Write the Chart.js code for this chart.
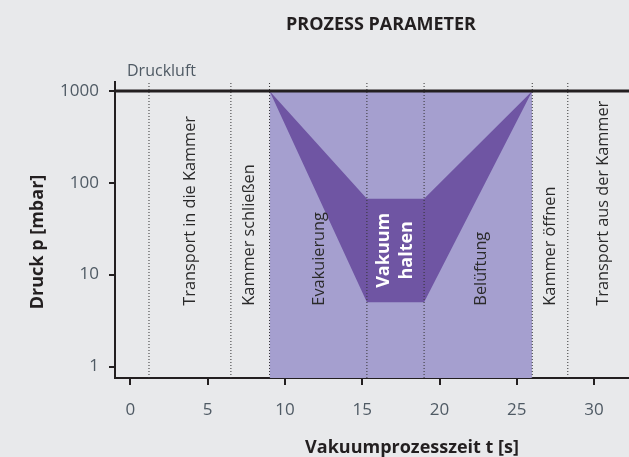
<!DOCTYPE html>
<html>
<head>
<meta charset="utf-8">
<script src="https://cdn.jsdelivr.net/npm/chart.js@4.4.1/dist/chart.umd.min.js"></script>
<style>
  html, body { margin: 0; padding: 0; background: #e8e9eb; }
  #wrap { width: 629px; height: 457px; }
</style>
</head>
<body>
<div id="wrap"><canvas id="chart"></canvas></div>
<script>
// Values
const xTicks = [0, 5, 10, 15, 20, 25, 30];
const yTicks = [1, 10, 100, 1000];

const phaseBounds = [1.2, 6.5, 9, 15.3, 19, 26, 28.3]; // dotted separators [s]
const phaseNames = ['Transport in die Kammer', 'Kammer schließen', 'Evakuierung', 'Belüftung', 'Kammer öffnen', 'Transport aus der Kammer'];
const phaseCenters = [3.9, 7.7, 12.25, 22.7, 27.2, 30.6];
const vacuumLabel = ['Vakuum', 'halten'];
const vacuumCenter = 17.15;

const bandX = [9, 26];            // process window (light purple)
const bandP = [1000, 1000];
const envX = [9, 15.3, 19, 26];   // pressure envelope (dark purple)
const envUpper = [1000, 67, 67, 1000];
const envLower = [1000, 5, 5, 1000];
const airX = [-1, 32.26];         // Druckluft level
const airP = [1000, 1000];

const X_MIN = -1, X_MAX = 32.26;
const Y_MIN = 0.75, Y_MAX = 1250;

const INK = '#231f20';
const GREY = '#4f5a64';
const LIGHT = '#a59fcf';
const DARK = '#6f55a3';

Chart.defaults.font.family = '"Open Sans"';

const pts = (xs, ys) => xs.map((v, i) => ({ x: v, y: ys[i] }));

const datasets = [
    { data: pts(airX, airP), borderColor: INK, borderWidth: 3, fill: false }
];
phaseBounds.forEach(b => {
    datasets.push({
        data: [{ x: b, y: Y_MIN }, { x: b, y: Y_MAX }],
        borderColor: '#333333', borderWidth: 1, borderDash: [1, 2], fill: false
    });
});
datasets.push({ data: pts(envX, envUpper), borderWidth: 0, borderColor: 'rgba(0,0,0,0)', fill: false });
datasets.push({ data: pts(envX, envLower), borderWidth: 0, borderColor: 'rgba(0,0,0,0)', backgroundColor: DARK, fill: '-1' });
datasets.push({ data: pts(bandX, bandP), borderWidth: 0, borderColor: 'rgba(0,0,0,0)', backgroundColor: LIGHT, fill: 'start' });

const textPlugin = {
    id: 'texts',
    beforeDraw(chart) {
        const ctx = chart.ctx;
        ctx.save();
        ctx.fillStyle = '#e8e9eb';
        ctx.fillRect(0, 0, chart.width, chart.height);
        ctx.restore();
    },
    afterDatasetsDraw(chart) {
        const { ctx, scales: { x, y } } = chart;
        ctx.save();
        // phase labels, rotated, starting low in the plot
        ctx.fillStyle = '#2a2a2a';
        ctx.font = '16.3px "Open Sans"';
        ctx.textAlign = 'left';
        ctx.textBaseline = 'middle';
        const yStart = y.getPixelForValue(4.6);
        phaseNames.forEach((name, i) => {
            ctx.save();
            ctx.translate(x.getPixelForValue(phaseCenters[i]), yStart);
            ctx.rotate(-Math.PI / 2);
            ctx.fillText(name, 0, 0);
            ctx.restore();
        });
        // "Vakuum halten" in white bold
        ctx.fillStyle = '#ffffff';
        ctx.font = 'bold 18px "Open Sans"';
        ctx.textAlign = 'center';
        const cx = x.getPixelForValue(vacuumCenter);
        const cy = y.getPixelForValue(18.4);
        ctx.translate(cx, cy);
        ctx.rotate(-Math.PI / 2);
        ctx.fillText(vacuumLabel[0], 0, -11.5);
        ctx.fillText(vacuumLabel[1], 0, 11.5);
        ctx.restore();
    },
    afterDraw(chart) {
        const ctx = chart.ctx;
        ctx.save();
        ctx.fillStyle = INK;
        ctx.textAlign = 'center';
        ctx.textBaseline = 'alphabetic';
        ctx.font = 'bold 18px "Open Sans"';
        ctx.fillText('PROZESS PARAMETER', 381, 30);
        ctx.fillText('Vakuumprozesszeit t [s]', 412, 453);
        ctx.save();
        ctx.translate(38, 242);
        ctx.rotate(-Math.PI / 2);
        ctx.textBaseline = 'middle';
        ctx.fillText('Druck p [mbar]', 0, 0);
        ctx.restore();
        ctx.fillStyle = GREY;
        ctx.textAlign = 'left';
        ctx.font = '16px "Open Sans"';
        ctx.fillText('Druckluft', 127, 76);
        ctx.restore();
    }
};

const ctx = document.getElementById('chart').getContext('2d');
const chart = new Chart(ctx, {
    type: 'line',
    data: { datasets },
    options: {
        responsive: true,
        maintainAspectRatio: false,
        animation: false,
        events: [],
        layout: { padding: { top: 82, right: 0, left: 0, bottom: 0 } },
        elements: {
            point: { radius: 0 },
            line: { tension: 0 }
        },
        plugins: {
            legend: { display: false },
            tooltip: { enabled: false },
            title: { display: false }
        },
        scales: {
            x: {
                type: 'linear',
                min: X_MIN,
                max: X_MAX,
                afterBuildTicks: s => { s.ticks = xTicks.map(v => ({ value: v })); },
                afterFit: s => { s.height = 79; },
                grid: { drawOnChartArea: false, tickLength: 7, color: INK, lineWidth: 2 },
                border: { display: true, color: INK, width: 2 },
                ticks: { color: GREY, font: { size: 17 }, padding: 15, maxRotation: 0, callback: v => String(v) }
            },
            y: {
                type: 'logarithmic',
                min: Y_MIN,
                max: Y_MAX,
                afterBuildTicks: s => { s.ticks = yTicks.map(v => ({ value: v })); },
                afterFit: s => { s.width = 115; },
                grid: { drawOnChartArea: false, tickLength: 6, color: INK, lineWidth: 2 },
                border: { display: true, color: INK, width: 2 },
                ticks: { color: GREY, font: { size: 17 }, padding: 10, callback: v => String(v) }
            }
        }
    },
    plugins: [textPlugin]
});
</script>
</body>
</html>
